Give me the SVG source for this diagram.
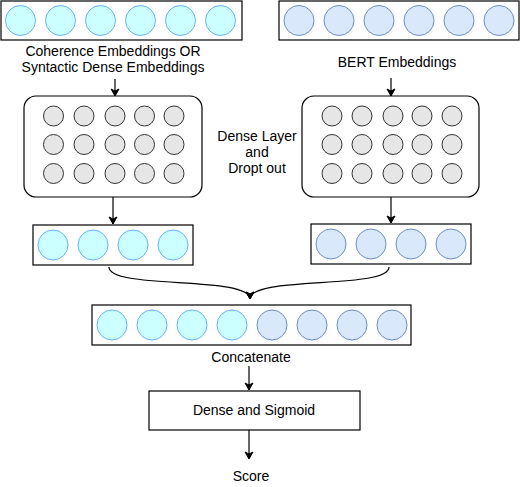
<svg xmlns="http://www.w3.org/2000/svg" width="520" height="487" viewBox="0 0 520 487">
<defs>
<marker id="ah" markerWidth="10" markerHeight="10" refX="8" refY="5" orient="auto" markerUnits="userSpaceOnUse"><path d="M1,1 L8,5 L1,9 L3,5 Z" fill="#000" stroke="#000" stroke-width="1"/></marker>
<style>
.box{fill:#fff;stroke:#000;stroke-width:1.2}
.cy{fill:#ccffff;stroke:#66b2ff;stroke-width:1}
.bl{fill:#dae8fc;stroke:#6c8ebf;stroke-width:1}
.gr{fill:#e6e6e6;stroke:#333;stroke-width:1}
.t{font-family:"Liberation Sans",Arial,sans-serif;font-size:14px;fill:#000;text-anchor:middle}
.c{fill:none;stroke:#000;stroke-width:1.2;marker-end:url(#ah)}
</style>
</defs>
<g id="left-input">
<rect class="box" x="1" y="1" width="241" height="39"/>
<circle class="cy" cx="20.5" cy="20.5" r="15"/><circle class="cy" cx="60.5" cy="20.5" r="15"/><circle class="cy" cx="100.5" cy="20.5" r="15"/><circle class="cy" cx="140.5" cy="20.5" r="15"/><circle class="cy" cx="180.5" cy="20.5" r="15"/><circle class="cy" cx="220.5" cy="20.5" r="15"/>
</g>
<g id="right-input">
<rect class="box" x="279" y="1" width="240" height="39"/>
<circle class="bl" cx="299" cy="20.5" r="15"/><circle class="bl" cx="339" cy="20.5" r="15"/><circle class="bl" cx="379" cy="20.5" r="15"/><circle class="bl" cx="419" cy="20.5" r="15"/><circle class="bl" cx="459" cy="20.5" r="15"/><circle class="bl" cx="499" cy="20.5" r="15"/>
</g>
<g id="left-label">
<text class="t" x="113" y="56">Coherence Embeddings OR</text>
<text class="t" x="113" y="72">Syntactic Dense Embeddings</text>
</g>
<g id="right-label">
<text class="t" x="397" y="67">BERT Embeddings</text>
</g>
<g id="left-dense">
<rect class="box" x="24" y="96" width="178" height="101" rx="12"/>
<g class="gr">
<circle cx="53.5" cy="116" r="10"/><circle cx="84" cy="116" r="10"/><circle cx="115" cy="116" r="10"/><circle cx="144.5" cy="116" r="10"/><circle cx="174" cy="116" r="10"/>
<circle cx="53.5" cy="144.5" r="10"/><circle cx="84" cy="144.5" r="10"/><circle cx="115" cy="144.5" r="10"/><circle cx="144.5" cy="144.5" r="10"/><circle cx="174" cy="144.5" r="10"/>
<circle cx="53.5" cy="173.5" r="10"/><circle cx="84" cy="173.5" r="10"/><circle cx="115" cy="173.5" r="10"/><circle cx="144.5" cy="173.5" r="10"/><circle cx="174" cy="173.5" r="10"/>
</g>
</g>
<g id="right-dense">
<rect class="box" x="302" y="96" width="177" height="101" rx="12"/>
<g class="gr">
<circle cx="332" cy="116" r="10"/><circle cx="362" cy="116" r="10"/><circle cx="393" cy="116" r="10"/><circle cx="422" cy="116" r="10"/><circle cx="452" cy="116" r="10"/>
<circle cx="332" cy="144.5" r="10"/><circle cx="362" cy="144.5" r="10"/><circle cx="393" cy="144.5" r="10"/><circle cx="422" cy="144.5" r="10"/><circle cx="452" cy="144.5" r="10"/>
<circle cx="332" cy="173.5" r="10"/><circle cx="362" cy="173.5" r="10"/><circle cx="393" cy="173.5" r="10"/><circle cx="422" cy="173.5" r="10"/><circle cx="452" cy="173.5" r="10"/>
</g>
</g>
<g id="dense-label">
<text class="t" x="257" y="141">Dense Layer</text>
<text class="t" x="257" y="157">and</text>
<text class="t" x="257" y="173">Dropt out</text>
</g>
<g id="left-out">
<rect class="box" x="33" y="225" width="160" height="40"/>
<circle class="cy" cx="53" cy="245" r="15"/><circle class="cy" cx="93" cy="245" r="15"/><circle class="cy" cx="133" cy="245" r="15"/><circle class="cy" cx="173" cy="245" r="15"/>
</g>
<g id="right-out">
<rect class="box" x="311" y="224" width="160" height="40"/>
<circle class="bl" cx="331" cy="244" r="15"/><circle class="bl" cx="371" cy="244" r="15"/><circle class="bl" cx="411" cy="244" r="15"/><circle class="bl" cx="451" cy="244" r="15"/>
</g>
<g id="concat">
<rect class="box" x="92" y="305" width="319" height="40"/>
<circle class="cy" cx="112" cy="325" r="15"/><circle class="cy" cx="152" cy="325" r="15"/><circle class="cy" cx="192" cy="325" r="15"/><circle class="cy" cx="232" cy="325" r="15"/>
<circle class="bl" cx="272" cy="325" r="15"/><circle class="bl" cx="312" cy="325" r="15"/><circle class="bl" cx="352" cy="325" r="15"/><circle class="bl" cx="392" cy="325" r="15"/>
<text class="t" x="251" y="362">Concatenate</text>
</g>
<g id="sigmoid">
<rect class="box" x="149" y="391" width="211" height="39"/>
<text class="t" x="254" y="415">Dense and Sigmoid</text>
</g>
<g id="score">
<text class="t" x="251" y="481">Score</text>
</g>
<g id="connectors">
<path class="c" d="M115,79 V96"/>
<path class="c" d="M391,78 V96"/>
<path class="c" d="M113,197 V224"/>
<path class="c" d="M391,197 V223"/>
<path class="c" d="M109,267 C109,290 250,275 250,299"/>
<path class="c" d="M389,267 C389,290 250,275 250,299"/>
<path class="c" d="M249,366 V390"/>
<path class="c" d="M249,430 V459"/>
</g>
</svg>
